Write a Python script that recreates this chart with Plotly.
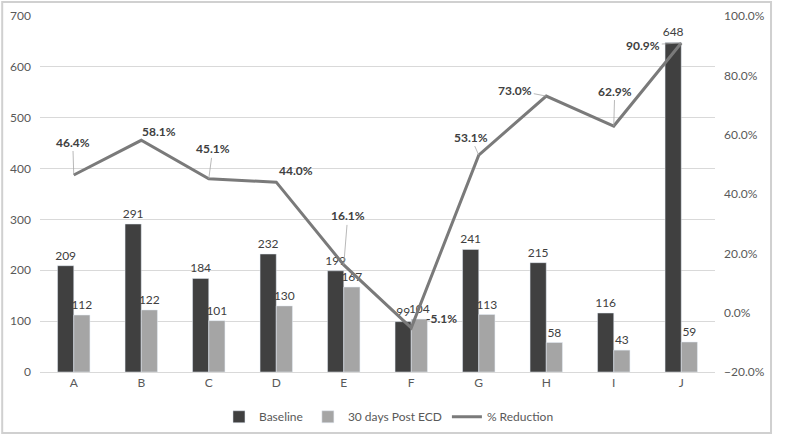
import plotly.graph_objects as go

categories = ["A", "B", "C", "D", "E", "F", "G", "H", "I", "J"]
baseline = [209, 291, 184, 232, 199, 99, 241, 215, 116, 648]
post_ecd = [112, 122, 101, 130, 167, 104, 113, 58, 43, 59]
reduction = [46.4, 58.1, 45.1, 44.0, 16.1, -5.1, 53.1, 73.0, 62.9, 90.9]

# label offsets (pixels) for % labels: (dx, dy, leader)
label_offsets = [(-1, -33, True), (18, -9, False), (4, -30, True), (20, -12, False),
                 (4, -49, True), (30, -9, False), (-8, -18, True), (-31, -6, True),
                 (1, -35, True), (-38, 2, True)]

FONT = "Lato, 'Open Sans', sans-serif"
TXT = "#404040"

fig = go.Figure()
fig.add_trace(go.Bar(x=categories, y=baseline, name="Baseline", marker_color="#404040",
                     text=baseline, textposition="outside", constraintext="none",
                     textfont=dict(size=12, color=TXT, family=FONT), cliponaxis=False))
fig.add_trace(go.Bar(x=categories, y=post_ecd, name="30 days Post ECD", marker_color="#a5a5a5",
                     text=post_ecd, textposition="outside", constraintext="none",
                     textfont=dict(size=12, color=TXT, family=FONT), cliponaxis=False))
fig.add_trace(go.Scatter(x=categories, y=reduction, name="% Reduction", yaxis="y2",
                         mode="lines", line=dict(color="#7a7a7a", width=3)))

for cat, val, (dx, dy, leader) in zip(categories, reduction, label_offsets):
    txt = f"<b>{val:.1f}%</b>"
    if leader:
        fig.add_annotation(x=cat, y=val, yref="y2", text=txt, showarrow=True,
                           ax=dx, ay=dy, arrowhead=0, arrowwidth=0.8,
                           arrowcolor="#a6a6a6", standoff=0,
                           font=dict(size=12, color=TXT, family=FONT))
    else:
        fig.add_annotation(x=cat, y=val, yref="y2", text=txt, showarrow=False,
                           xshift=dx, yshift=-dy,
                           font=dict(size=12, color=TXT, family=FONT))

fig.add_shape(type="rect", xref="paper", yref="paper", x0=-0.056, x1=1.083,
              y0=-0.171, y1=1.039, line=dict(color="#d0d0d0", width=2), layer="below")

fig.update_layout(
    width=800, height=435,
    margin=dict(l=40, r=85, t=16, b=63, autoexpand=False),
    paper_bgcolor="white", plot_bgcolor="white",
    barmode="group", bargap=0.52, bargroupgap=0,
    font=dict(family=FONT, size=12, color="#595959"),
    xaxis=dict(showline=True, linecolor="#d9d9d9", linewidth=1, ticks="", automargin=False,
               tickfont=dict(size=12, color="#595959")),
    yaxis=dict(range=[0, 700], dtick=100, showgrid=True, gridcolor="#d9d9d9", automargin=False,
               zeroline=False, tickfont=dict(size=12, color="#595959"), ticklabelstandoff=8),
    yaxis2=dict(range=[-20, 100], dtick=20, overlaying="y", side="right", automargin=False,
                showgrid=False, zeroline=False, ticksuffix="%", tickformat=".1f",
                tickfont=dict(size=12, color="#595959"), ticklabelstandoff=8),
    legend=dict(orientation="h", x=0.517, xanchor="center", y=-0.085, yanchor="top",
                font=dict(size=12, color="#595959"), itemwidth=30),
)

fig.write_html("out.html", config={"displayModeBar": False},
               post_script="document.body.style.margin='0';")
